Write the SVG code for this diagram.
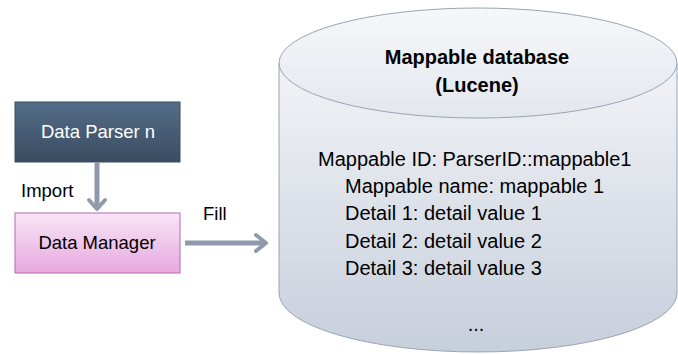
<svg xmlns="http://www.w3.org/2000/svg" width="678" height="354" viewBox="0 0 678 354">
<defs>
<linearGradient id="gParser" x1="0" y1="0" x2="0" y2="1"><stop offset="0" stop-color="#546d88"/><stop offset="1" stop-color="#3a4c61"/></linearGradient>
<linearGradient id="gMgr" x1="0" y1="0" x2="0" y2="1"><stop offset="0" stop-color="#f9e6f7"/><stop offset="1" stop-color="#e6a8de"/></linearGradient>
<linearGradient id="gCyl" x1="0" y1="0" x2="0" y2="1"><stop offset="0" stop-color="#f2f3f6"/><stop offset="1" stop-color="#c7cfdc"/></linearGradient>
<linearGradient id="gTop" x1="0" y1="0" x2="0" y2="1"><stop offset="0" stop-color="#f6f7f9"/><stop offset="1" stop-color="#e3e7ee"/></linearGradient>
<style>
text{font-family:"Liberation Sans",Arial,sans-serif;}
.lbl{font-size:18.5px;fill:#000;}
.db{font-size:20px;fill:#000;}
.conn{stroke:#8e9aab;stroke-width:5;fill:none;}
.head{stroke:#8e9aab;stroke-width:4;fill:none;stroke-linecap:round;stroke-linejoin:round;}
</style>
</defs>
<g id="database">
<path d="M279,63 L279,293 A199,59 0 0 0 677,293 L677,63 Z" fill="url(#gCyl)" stroke="#9aa4b4" stroke-width="1"/>
<ellipse cx="478" cy="63" rx="199" ry="55" fill="url(#gTop)" stroke="#9aa4b4" stroke-width="1"/>
<text x="477" y="64" text-anchor="middle" class="db" font-weight="bold">Mappable database</text>
<text x="477" y="92" text-anchor="middle" class="db" font-weight="bold">(Lucene)</text>
<text x="318" y="166" class="db">Mappable ID: ParserID::mappable1</text>
<text x="345" y="193" class="db">Mappable name: mappable 1</text>
<text x="345" y="220" class="db">Detail 1: detail value 1</text>
<text x="345" y="248" class="db">Detail 2: detail value 2</text>
<text x="345" y="275" class="db">Detail 3: detail value 3</text>
<text x="476" y="331" text-anchor="middle" class="db">...</text>
</g>
<g id="parser">
<rect x="15" y="102" width="165" height="60" fill="url(#gParser)" stroke="#3a4c61" stroke-width="1"/>
<text x="98" y="138" text-anchor="middle" class="lbl" style="fill:#fff">Data Parser n</text>
</g>
<g id="manager">
<rect x="15" y="213" width="165" height="60" fill="url(#gMgr)" stroke="#b668ad" stroke-width="1"/>
<text x="97" y="249" text-anchor="middle" class="lbl">Data Manager</text>
</g>
<g id="connectors">
<line class="conn" x1="97" y1="162" x2="97" y2="209"/>
<polyline class="head" points="89,200 97,209 105,200"/>
<text x="21" y="197" class="lbl">Import</text>
<line class="conn" x1="185" y1="243" x2="265" y2="243"/>
<polyline class="head" points="256,235 266,243 256,251"/>
<text x="203" y="220" class="lbl">Fill</text>
</g>
</svg>
